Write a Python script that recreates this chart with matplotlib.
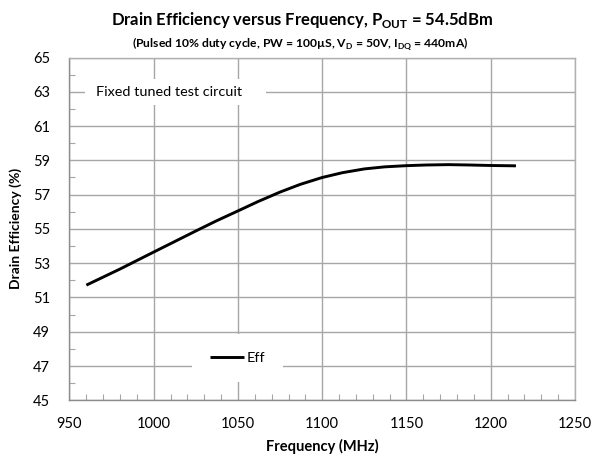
import matplotlib
matplotlib.use("Agg")
import matplotlib.pyplot as plt
from matplotlib.ticker import MultipleLocator
from matplotlib.patches import Rectangle

plt.rcParams['font.family'] = ['Lato', 'DejaVu Sans']
plt.rcParams['mathtext.fontset'] = 'custom'
plt.rcParams['mathtext.rm'] = 'Lato'
plt.rcParams['mathtext.bf'] = 'Lato:bold'

freq = [960, 980, 1000, 1025, 1037, 1050, 1062, 1075, 1087, 1100, 1112, 1125,
        1137, 1150, 1162, 1175, 1187, 1200, 1215]
eff = [51.72, 52.66, 53.65, 54.88, 55.46, 56.05, 56.6, 57.15, 57.6, 58.0, 58.28, 58.5,
       58.62, 58.69, 58.73, 58.75, 58.73, 58.7, 58.68]
series_name = "Eff"
x_ticks = [950, 1000, 1050, 1100, 1150, 1200, 1250]
y_ticks = [45, 47, 49, 51, 53, 55, 57, 59, 61, 63, 65]

fig = plt.figure(figsize=(5.97, 4.55), dpi=100)
ax = fig.add_axes([0.1164, 0.1202, 0.8466, 0.7534])

ax.plot(freq, eff, color='black', lw=2.1, label=series_name,
        solid_capstyle='butt', solid_joinstyle='round', zorder=5)

ax.set_xlim(950, 1250)
ax.set_ylim(45, 65)
ax.set_xticks(x_ticks)
ax.set_yticks(y_ticks)
ax.xaxis.set_minor_locator(MultipleLocator(10))
ax.yaxis.set_minor_locator(MultipleLocator(1))
ax.tick_params(which='major', length=0, labelsize=10.5, colors='black')
ax.tick_params(axis='x', which='major', pad=12)
ax.tick_params(axis='y', which='major', pad=14)
ax.tick_params(which='minor', direction='in', length=4, color='#a6a6a6', width=0.8)
ax.grid(True, which='major', color='#a6a6a6', lw=1.0)
ax.set_axisbelow(True)
for s in ['top', 'right']:
    ax.spines[s].set_color('#b0b0b0')
    ax.spines[s].set_linewidth(1.0)
for s in ['left', 'bottom']:
    ax.spines[s].set_color('#8c8c8c')
    ax.spines[s].set_linewidth(1.0)

ax.set_xlabel('Frequency (MHz)', fontsize=10.5, fontweight='bold', labelpad=6)
ax.set_ylabel('Drain Efficiency (%)', fontsize=10, fontweight='bold', labelpad=8)

# white box behind annotation
ax.add_patch(Rectangle((0.031, 0.862), 0.358, 0.076, transform=ax.transAxes,
                       facecolor='white', edgecolor='none', zorder=2))
ax.text(0.052, 0.9, 'Fixed tuned test circuit', transform=ax.transAxes,
        fontsize=10.4, va='center', ha='left', zorder=3)

leg = ax.legend(loc='center', bbox_to_anchor=(0.332, 0.123), frameon=True,
                fontsize=10.4, handlelength=2.4, handletextpad=0.15,
                borderpad=1.25, borderaxespad=0)
leg.get_frame().set_edgecolor('none')
leg.get_frame().set_facecolor('white')
leg.get_frame().set_alpha(1)
leg.get_frame().set_boxstyle('square', pad=0)

fig.text(0.505, 0.955, r'Drain Efficiency versus Frequency, P$_{\mathbf{OUT}}$ = 54.5dBm',
         ha='center', va='center', fontsize=12, fontweight='bold')
fig.text(0.503, 0.905, r'(Pulsed 10% duty cycle, PW = 100µS, V$_{\mathbf{D}}$ = 50V, I$_{\mathbf{DQ}}$ = 440mA)',
         ha='center', va='center', fontsize=8.7, fontweight='bold')

fig.savefig('out.png', dpi=100)
